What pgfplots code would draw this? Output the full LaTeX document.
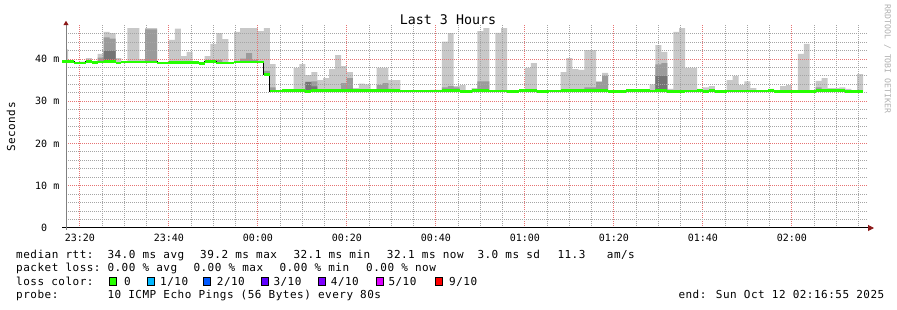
\documentclass[border=0pt]{standalone}
\usepackage{pgfplots}
\pgfplotsset{compat=1.18}
\usepackage{pgfplotstable}
\usepgfplotslibrary{fillbetween}
\usepackage{fontspec}
\usetikzlibrary{arrows.meta}
\setmainfont{DejaVu Sans Mono}
\newfontfamily\mono{DejaVu Sans Mono}
\newfontfamily\legfont{DejaVu Sans Mono}[LetterSpace=4.5]
\definecolor{smokeL}{RGB}{200,200,200}
\definecolor{smokeM}{RGB}{155,155,155}
\definecolor{smokeD}{RGB}{116,116,116}
\definecolor{lossgreen}{HTML}{26FF00}
\definecolor{loss1}{HTML}{00B8FF}
\definecolor{loss2}{HTML}{0059FF}
\definecolor{loss3}{HTML}{5E00FF}
\definecolor{loss4}{HTML}{7E00FF}
\definecolor{loss5}{HTML}{DD00FF}
\definecolor{loss9}{HTML}{FF0000}
\definecolor{gridmaj}{RGB}{230,115,115}
\definecolor{gridmin}{RGB}{165,165,165}
\definecolor{arrowred}{RGB}{140,25,25}
\definecolor{wmark}{RGB}{175,175,175}
\newcommand{\lf}{\fontsize{11}{13}\selectfont\legfont}

% k = 80 s interval index; med = median rtt, dk/md/mx = tops of dark/medium/light smoke (ms)
\pgfplotstableread{
k med dk md mx
-2 39.4 39.4 39.4 42.3
-1 39.4 39.4 39.4 39.4
0 39.1 39.1 39.1 39.1
1 39.1 39.1 39.1 39.4
2 39.4 39.4 39.4 40.2
3 39.2 39.2 39.2 39.2
4 39.3 39.3 40.3 41.2
5 39.4 42.0 45.1 46.4
6 39.4 42.0 44.8 46.1
7 39.1 39.1 39.1 40.2
8 39.3 39.3 39.3 39.3
9 39.3 39.3 39.3 47.3
10 39.3 39.3 39.3 47.3
11 39.3 39.3 39.3 40.0
12 39.3 39.3 47.0 47.3
13 39.3 39.3 47.0 47.3
14 39.1 39.1 39.1 39.1
15 39.1 39.1 39.1 39.1
16 39.2 39.2 39.2 44.5
17 39.2 39.2 39.2 47.2
18 39.2 39.2 39.2 40.7
19 39.2 39.2 39.2 41.7
20 39.2 39.2 39.2 39.2
21 39.0 39.0 39.0 39.0
22 39.4 39.4 39.4 40.7
23 39.4 39.4 39.7 43.6
24 39.1 39.1 39.8 46.1
25 39.1 39.1 39.1 44.7
26 39.1 39.1 39.1 39.1
27 39.3 39.3 39.3 46.4
28 39.3 39.3 40.1 47.3
29 39.3 39.3 41.4 47.3
30 39.3 39.3 39.8 47.3
31 39.3 39.3 39.3 46.6
32 36.4 36.4 37.2 47.3
33 32.4 32.4 33.3 38.8
34 32.4 32.4 32.4 32.4
35 32.5 32.5 32.5 32.5
36 32.6 32.6 32.6 32.6
37 32.6 32.6 32.6 37.9
38 32.6 32.6 32.6 38.8
39 32.3 34.6 34.6 36.2
40 32.5 33.5 34.7 36.9
41 32.5 32.5 32.8 35.0
42 32.5 32.5 32.5 35.5
43 32.5 32.5 32.5 37.6
44 32.5 32.5 32.5 40.9
45 32.6 32.6 34.3 38.3
46 32.6 32.9 35.5 36.9
47 32.5 32.5 32.5 33.1
48 32.5 32.5 32.5 34.2
49 32.5 32.5 32.5 34.0
50 32.5 32.5 32.5 32.5
51 32.5 32.5 33.8 37.9
52 32.5 32.5 34.3 37.9
53 32.5 32.5 32.9 35.0
54 32.5 32.5 32.5 35.0
55 32.4 32.4 32.4 32.4
56 32.4 32.4 32.4 32.4
57 32.4 32.4 32.4 32.4
58 32.4 32.4 32.4 32.4
59 32.4 32.4 32.4 32.4
60 32.4 32.4 32.4 32.7
61 32.4 32.4 32.4 32.7
62 32.5 32.5 33.3 44.1
63 32.5 32.5 33.6 46.1
64 32.5 32.5 33.3 33.6
65 32.3 32.3 32.3 33.8
66 32.3 32.3 32.3 32.6
67 32.5 32.5 32.5 33.1
68 32.5 32.5 34.7 46.6
69 32.5 32.5 34.7 47.3
70 32.4 32.4 32.4 32.6
71 32.4 32.4 32.4 46.2
72 32.4 32.4 32.4 47.3
73 32.3 32.3 32.3 32.6
74 32.3 32.3 32.3 32.6
75 32.5 32.5 32.5 32.5
76 32.5 32.5 32.5 37.9
77 32.5 32.5 32.5 39.0
78 32.3 32.3 32.3 32.3
79 32.3 32.3 32.3 32.3
80 32.4 32.4 32.4 32.4
81 32.4 32.4 32.4 32.4
82 32.5 32.5 32.5 36.9
83 32.5 32.5 32.5 40.2
84 32.5 32.5 32.5 37.6
85 32.5 32.5 32.5 37.4
86 32.5 32.5 33.3 42.1
87 32.5 32.5 33.3 42.1
88 32.5 32.5 34.6 34.7
89 32.5 32.5 36.0 36.7
90 32.3 32.3 32.3 32.3
91 32.3 32.3 32.3 32.3
92 32.3 32.3 32.3 32.3
93 32.5 32.5 32.5 32.5
94 32.5 32.5 32.5 32.5
95 32.5 32.5 32.5 32.5
96 32.5 32.5 32.5 32.5
97 32.4 32.4 32.4 34.0
98 32.5 36.0 38.7 43.3
99 32.5 36.0 39.0 41.7
100 32.3 32.3 32.3 32.9
101 32.3 32.3 32.3 46.4
102 32.3 32.3 32.3 47.3
103 32.4 32.4 32.4 37.9
104 32.4 32.4 32.4 37.9
105 32.5 32.5 32.5 32.9
106 32.3 32.3 32.3 33.3
107 32.5 32.5 32.5 33.6
108 32.3 32.3 32.3 32.3
109 32.3 32.3 32.3 32.3
110 32.4 32.4 32.4 35.0
111 32.4 32.4 32.4 36.0
112 32.4 32.4 32.4 33.9
113 32.4 32.4 32.4 34.7
114 32.4 32.4 32.4 33.1
115 32.4 32.4 32.4 32.4
116 32.4 32.4 32.4 32.4
117 32.5 32.5 32.5 32.9
118 32.3 32.3 32.3 32.5
119 32.3 32.3 32.3 33.6
120 32.3 32.3 32.3 33.8
121 32.3 32.3 32.3 32.3
122 32.3 32.3 32.3 41.2
123 32.3 32.3 32.3 43.6
124 32.3 32.3 32.3 32.3
125 32.5 32.5 33.3 34.8
126 32.5 32.5 32.5 35.5
127 32.5 32.5 32.5 33.1
128 32.5 32.5 32.5 33.1
129 32.5 32.5 32.5 33.3
130 32.3 32.3 32.3 32.9
131 32.3 32.3 32.3 32.6
132 32.3 32.3 32.3 36.4
133 32.3 32.3 32.3 32.3
}\smoke

\begin{document}
\begin{tikzpicture}[x=1pt,y=1pt]
\path (0,0) rectangle (897,310);
\begin{axis}[
  at={(66pt,82pt)}, anchor=south west, scale only axis,
  width=802pt, height=202.8pt,
  xmin=-1.35, xmax=133.82, ymin=0, ymax=48,
  set layers=axis on top,
  axis lines*=left,
  x axis line style={draw=black, line width=1pt, shorten >=-6pt, shorten <=-4pt, -{Triangle[length=6pt,width=6pt,color=arrowred,fill=arrowred]}},
  y axis line style={draw=gray, line width=1pt, shorten >=-4.5pt, shorten <=-2pt, -{Triangle[length=4.5pt,width=5pt,color=arrowred,fill=arrowred]}},
  xtick={1,16,...,121},
  xticklabels={23:20,23:40,00:00,00:20,00:40,01:00,01:20,01:40,02:00},
  minor xtick={4.75,8.5,12.25,19.75,23.5,27.25,34.75,38.5,42.25,49.75,53.5,57.25,64.75,68.5,72.25,79.75,83.5,87.25,94.75,98.5,102.25,109.75,113.5,117.25,124.75,128.5,132.25},
  ytick={10,20,30,40},
  yticklabels={10 m,20 m,30 m,40 m},
  extra y ticks={0},
  extra y tick labels={0\phantom{\ m}},
  extra y tick style={grid=none},
  minor ytick={2,4,6,8,12,14,16,18,22,24,26,28,32,34,36,38,42,44,46},
  major tick length=0pt, minor tick length=0pt,
  grid=both,
  major grid style={draw=gridmaj, line width=0.9pt, dash pattern=on 1pt off 1pt},
  minor grid style={draw=gridmin, line width=0.9pt, dash pattern=on 1pt off 1pt},
  tick label style={font=\fontsize{10}{12}\selectfont\mono},
  xticklabel style={anchor=center, yshift=-9.8pt, inner sep=0pt},
  yticklabel style={anchor=east, xshift=-6.5pt, inner sep=0pt},
]
\addplot[const plot, draw=none, name path=pmed] table[x=k, y=med] {\smoke};
\addplot[const plot, draw=none, name path=pdk] table[x=k, y=dk] {\smoke};
\addplot[const plot, draw=none, name path=pmd] table[x=k, y=md] {\smoke};
\addplot[const plot, draw=none, name path=pmx] table[x=k, y=mx] {\smoke};
\addplot[fill=smokeL, draw=none] fill between[of=pmx and pmed];
\addplot[fill=smokeM, draw=none] fill between[of=pmd and pmed];
\addplot[fill=smokeD, draw=none] fill between[of=pdk and pmed];
\addplot[const plot, black, line width=1pt, on layer=axis foreground] table[x=k, y=med] {\smoke};
\addplot[jump mark left, color=lossgreen, line width=2.6pt, on layer=axis foreground] table[x=k, y=med] {\smoke};
\end{axis}

\node[anchor=base, inner sep=0pt, font=\fontsize{13.3}{15}\selectfont\mono] at (448,285.5) {Last 3 Hours};
\node[rotate=90, inner sep=0pt, font=\lf] at (11,183) {Seconds};
\node[rotate=-90, inner sep=0pt, text=wmark, font=\fontsize{8.2}{10}\selectfont\mono] at (887.5,251) {RRDTOOL / TOBI OETIKER};

\tikzset{lg/.style={anchor=base west, inner sep=0pt, font=\lf},
         lb/.style={draw=black, line width=0.7pt, minimum width=7pt, minimum height=8pt, inner sep=0pt, anchor=south west}}
% line 1
\node[lg] at (16,51.7) {median rtt:};
\node[lg] at (107.3,51.7) {34.0 ms avg};
\node[lg] at (200,51.7) {39.2 ms max};
\node[lg] at (293.3,51.7) {32.1 ms min};
\node[lg] at (386.7,51.7) {32.1 ms now};
\node[lg] at (477.3,51.7) {3.0 ms sd};
\node[lg] at (557.3,51.7) {11.3};
\node[lg] at (606.7,51.7) {am/s};
% line 2
\node[lg] at (16,38.3) {packet loss:};
\node[lg] at (107.3,38.3) {0.00 \% avg};
\node[lg] at (193.3,38.3) {0.00 \% max};
\node[lg] at (279.3,38.3) {0.00 \% min};
\node[lg] at (366,38.3) {0.00 \% now};
% line 3
\node[lg] at (16,24.7) {loss color:};
\node[lb, fill=lossgreen] at (109,23.8) {};
\node[lg] at (124,24.7) {0};
\node[lb, fill=loss1] at (146.7,23.8) {};
\node[lg] at (160,24.7) {1/10};
\node[lb, fill=loss2] at (203.3,23.8) {};
\node[lg] at (216.7,24.7) {2/10};
\node[lb, fill=loss3] at (261,23.8) {};
\node[lg] at (273.3,24.7) {3/10};
\node[lb, fill=loss4] at (318.3,23.8) {};
\node[lg] at (330.7,24.7) {4/10};
\node[lb, fill=loss5] at (375.7,23.8) {};
\node[lg] at (388.3,24.7) {5/10};
\node[lb, fill=loss9] at (435,23.8) {};
\node[lg] at (449,24.7) {9/10};
% line 4
\node[lg] at (16,11) {probe:};
\node[lg] at (107.3,11) {10 ICMP Echo Pings (56 Bytes) every 80s};
\node[lg] at (678.3,11) {end: Sun Oct 12 02:16:55 2025};
\end{tikzpicture}
\end{document}
